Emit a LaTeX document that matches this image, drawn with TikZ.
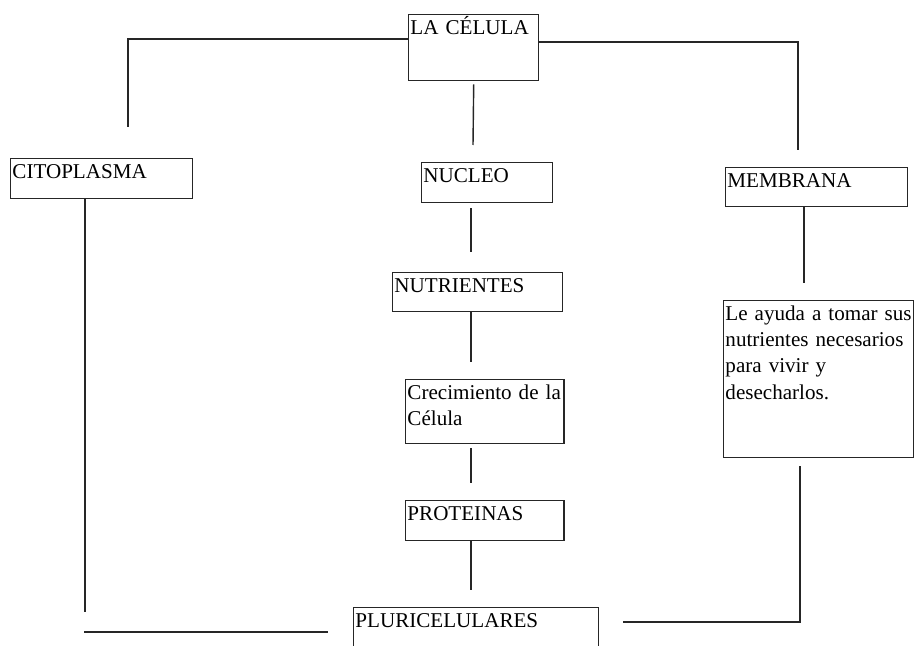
\documentclass[tikz,border=0pt]{standalone}
\usepackage{fontspec}
\setmainfont{Liberation Serif}
\tikzstyle{block} = [draw=black!85, line width=0.8pt, rectangle, anchor=north west,
    align=left, inner xsep=1pt, inner ysep=1.5pt, text height=9.5pt,
    font=\fontsize{12}{15}\selectfont]
\tikzstyle{link} = [draw=black!85, line width=0.8pt]

\begin{document}
\begin{tikzpicture}[x=0.02cm, y=-0.02cm]
    \useasboundingbox (0,0) rectangle (915,645);
    \node [block, text width=2.53cm, text depth=0.88cm] (celula) at (408,14) {LA CÉLULA};
    \node [block, text width=3.57cm, text depth=0.36cm] (cito) at (10,158) {CITOPLASMA};
    \node [block, text width=2.55cm, text depth=0.36cm] (nucleo) at (421,162) {NUCLEO};
    \node [block, text width=3.57cm, text depth=0.34cm] (membrana) at (725,167) {MEMBRANA};
    \node [block, text width=3.33cm, text depth=0.34cm] (nutri) at (392,272) {NUTRIENTES};
    \node [block, text width=3.1cm, text depth=0.84cm] (crec) at (405,379) {Crecimiento de la\\ Célula};
    \node [block, text width=3.1cm, text depth=0.36cm] (prot) at (405,500) {PROTEINAS};
    \node [block, text width=3.73cm, text depth=2.70cm] (texto) at (723,300)
        {Le ayuda a tomar sus\\ nutrientes necesarios\\ para vivir y\\ desecharlos.};
    \node [block, text width=4.83cm, text depth=0.42cm] (pluri) at (353,607) {PLURICELULARES};
    % free ends of the connectors
    \coordinate (citotop) at (128,127);
    \coordinate (membtop) at (798,150);
    \coordinate (nucleotop) at (473,145);
    \coordinate (nutritop) at (471,252);
    \coordinate (crectop) at (471,362);
    \coordinate (prottop) at (471,483);
    \coordinate (pluritop) at (471,590);
    \coordinate (textotop) at (804,283);
    \coordinate (rightcorner) at (800,622);
    \coordinate (plurieast) at (623,622);
    \coordinate (leftend) at (85,612);
    \coordinate (leftcorner) at (84,632);
    \coordinate (pluriwest) at (328,632);
    \draw [link] (celula.north west) ++(0,25) -| (citotop);
    \draw [link] (celula.north east) ++(0,28) -| (membtop);
    \draw [link] (celula.south) ++(0,3) -- (nucleotop);
    \draw [link] (nucleo.south -| nutritop) ++(0,5) -- (nutritop);
    \draw [link] (nutri.south -| crectop) -- (crectop);
    \draw [link] (crec.south -| prottop) ++(0,4) -- (prottop);
    \draw [link] (prot.south -| pluritop) -- (pluritop);
    \draw [link] (membrana.south -| textotop) -- (textotop);
    \draw [link] (texto.south -| rightcorner) ++(0,8) -- (rightcorner) -- (plurieast);
    \draw [link] (cito.south -| leftend) -- (leftend);
    \draw [link] (leftcorner) -- (pluriwest);
\end{tikzpicture}
\end{document}
